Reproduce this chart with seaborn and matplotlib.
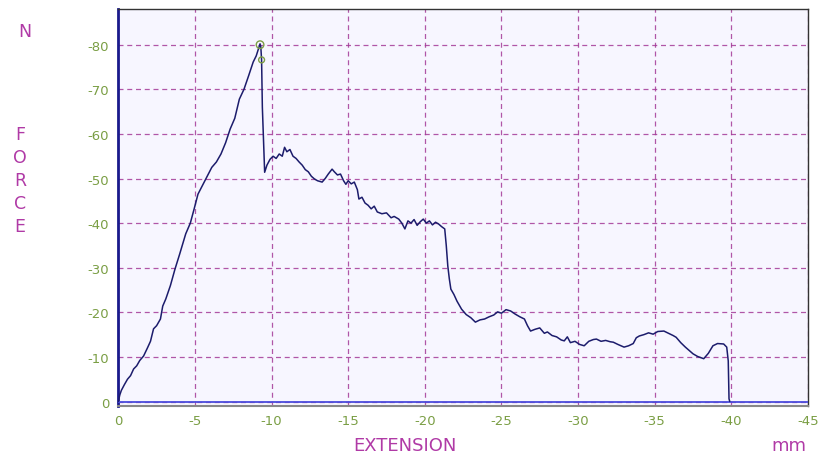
import matplotlib
matplotlib.use("Agg")
import matplotlib.pyplot as plt
import seaborn as sns
import pandas as pd

# extension (mm) and force (N)
extension = [0, -0.1, -0.2, -0.4, -0.6, -0.8, -1.0, -1.2, -1.4, -1.65, -1.9, -2.1, -2.3, -2.5,
             -2.75, -2.9, -3.1, -3.4, -3.7, -4.0, -4.4, -4.7, -4.95, -5.2, -5.5, -5.8, -6.1,
             -6.4, -6.7, -7.0, -7.3, -7.6, -7.9, -8.2, -8.5, -8.8, -9.0, -9.25, -9.3, -9.35,
             -9.4, -9.55, -9.7, -9.9, -10.1, -10.3, -10.5, -10.7, -10.85, -11.0, -11.2, -11.4,
             -11.6, -11.8, -12.0, -12.2, -12.4, -12.6, -12.8, -13.0, -13.3, -13.5, -13.7, -13.95,
             -14.1, -14.3, -14.5, -14.7, -14.85, -15.0, -15.2, -15.4, -15.6, -15.7, -15.9, -16.1,
             -16.3, -16.5, -16.7, -16.9, -17.2, -17.5, -17.8, -18.0, -18.3, -18.5, -18.7, -18.9,
             -19.1, -19.3, -19.5, -19.7, -19.9, -20.1, -20.3, -20.5, -20.7, -20.9, -21.1, -21.3,
             -21.4, -21.5, -21.6, -21.7, -21.9, -22.1, -22.4, -22.7, -23.0, -23.3, -23.6, -23.9,
             -24.2, -24.5, -24.75, -25.0, -25.3, -25.6, -25.9, -26.2, -26.5, -26.7, -26.9, -27.2,
             -27.5, -27.8, -28.0, -28.3, -28.6, -28.9, -29.1, -29.3, -29.5, -29.8, -30.1, -30.4,
             -30.7, -31.0, -31.2, -31.5, -31.8, -32.1, -32.3, -32.6, -33.0, -33.3, -33.6, -33.8,
             -34.0, -34.3, -34.6, -34.9, -35.2, -35.6, -35.9, -36.2, -36.4, -36.7, -37.0, -37.3,
             -37.5, -37.8, -38.2, -38.5, -38.8, -39.1, -39.5, -39.7, -39.8, -39.85, -39.9]
force = [0, -1.5, -2.5, -3.8, -5.0, -5.8, -7.3, -8.0, -9.2, -10.2, -12.0, -13.5, -16.3, -17.0,
         -18.5, -21.4, -23.0, -26.0, -29.7, -33.0, -37.6, -40.0, -43.2, -46.5, -48.5, -50.5, -52.5,
         -53.7, -55.5, -58.0, -61.1, -63.5, -67.8, -70.0, -73.0, -76.1, -77.5, -80.2, -79.5, -76.6,
         -66.0, -51.4, -53.0, -54.3, -55.0, -54.5, -55.5, -55.0, -57.0, -56.0, -56.5, -55.0,
         -54.5, -53.7, -53.0, -52.0, -51.5, -50.5, -49.9, -49.5, -49.2, -50.0, -51.0, -52.1,
         -51.5, -50.8, -51.0, -49.5, -48.7, -49.5, -48.8, -49.2, -47.5, -45.4, -45.8, -44.5,
         -44.0, -43.2, -43.8, -42.5, -42.1, -42.3, -41.2, -41.5, -40.9, -40.0, -38.7, -40.5,
         -40.0, -40.8, -39.5, -40.3, -40.9, -40.0, -40.5, -39.6, -40.2, -39.8, -39.2, -38.7,
         -35.0, -30.4, -27.5, -25.2, -24.0, -22.5, -20.7, -19.5, -18.8, -17.8, -18.3, -18.5,
         -19.0, -19.4, -20.1, -19.8, -20.6, -20.3, -19.6, -19.0, -18.5, -17.0, -15.8, -16.2,
         -16.5, -15.3, -15.6, -14.8, -14.5, -13.8, -13.6, -14.5, -13.2, -13.5, -12.8, -12.5,
         -13.5, -13.9, -14.0, -13.5, -13.7, -13.4, -13.3, -12.8, -12.2, -12.5, -13.0, -14.3,
         -14.7, -15.0, -15.4, -15.1, -15.7, -15.8, -15.3, -14.8, -14.4, -13.2, -12.2, -11.3,
         -10.7, -10.1, -9.6, -10.8, -12.5, -13.0, -12.9, -12.2, -9.1, -0.6, 0]

peak_ext = [-9.25]
peak_force = [-80.0]
break_ext = [-9.35]
break_force = [-76.6]

x_ticks = [0, -5, -10, -15, -20, -25, -30, -35, -40, -45]
y_ticks = [0, -10, -20, -30, -40, -50, -60, -70, -80]

purple = "#a43a98"
label_col = "#b03aa6"
green = "#7a9e44"

sns.set_style("white")
plt.rcParams["axes.unicode_minus"] = False
plt.rcParams["font.family"] = ["DejaVu Sans"]

fig = plt.figure(figsize=(8.19, 4.56), dpi=100)
ax = fig.add_axes([0.1435, 0.1075, 0.843, 0.8705])
ax.set_facecolor("#f7f6ff")

df = pd.DataFrame({"ext": extension, "force": force})
ax.axhline(0, color="#4b4bdc", lw=1.3, zorder=3)
sns.lineplot(data=df, x="ext", y="force", sort=False, estimator=None,
             color="#1c1c6c", lw=1.1, ax=ax, zorder=4)
ax.scatter(peak_ext, peak_force, s=30, facecolors="none", edgecolors="#7d9e46", lw=1, zorder=5)
ax.scatter(break_ext, break_force, s=18, facecolors="none", edgecolors="#7d9e46", lw=1, zorder=5)

ax.set_xlim(0.05, -44.8)
ax.set_ylim(1.0, -88.0)
ax.set_xticks(x_ticks)
ax.set_yticks(y_ticks)
ax.set_xticklabels([str(t) for t in x_ticks])
ax.set_yticklabels([str(t) for t in y_ticks])
ax.tick_params(length=0, labelsize=9.5, labelcolor=green, pad=6)

ax.grid(True, color=purple, ls=(0, (4, 3)), lw=0.9, alpha=0.85)
ax.set_axisbelow(True)

ax.spines["left"].set_color("#1a1a8c")
ax.spines["left"].set_linewidth(2)
ax.spines["bottom"].set_color("#888888")
ax.spines["bottom"].set_linewidth(1.5)
for s in ["top", "right"]:
    ax.spines[s].set_color("#333333")
    ax.spines[s].set_linewidth(1)

ax.set_xlabel("")
ax.set_ylabel("")

fig.text(25 / 819, 1 - 32 / 456, "N", color=label_col, fontsize=12.5, ha="center", va="center")
for i, letter in enumerate("FORCE"):
    fig.text(20 / 819, 1 - (135 + i * 23) / 456, letter, color=label_col, fontsize=12.5,
             ha="center", va="center")
fig.text(405 / 819, 1 - 446 / 456, "EXTENSION", color=label_col, fontsize=13, ha="center", va="center")
fig.text(789 / 819, 1 - 446 / 456, "mm", color=label_col, fontsize=13, ha="center", va="center")

fig.savefig("out.png", dpi=100)
